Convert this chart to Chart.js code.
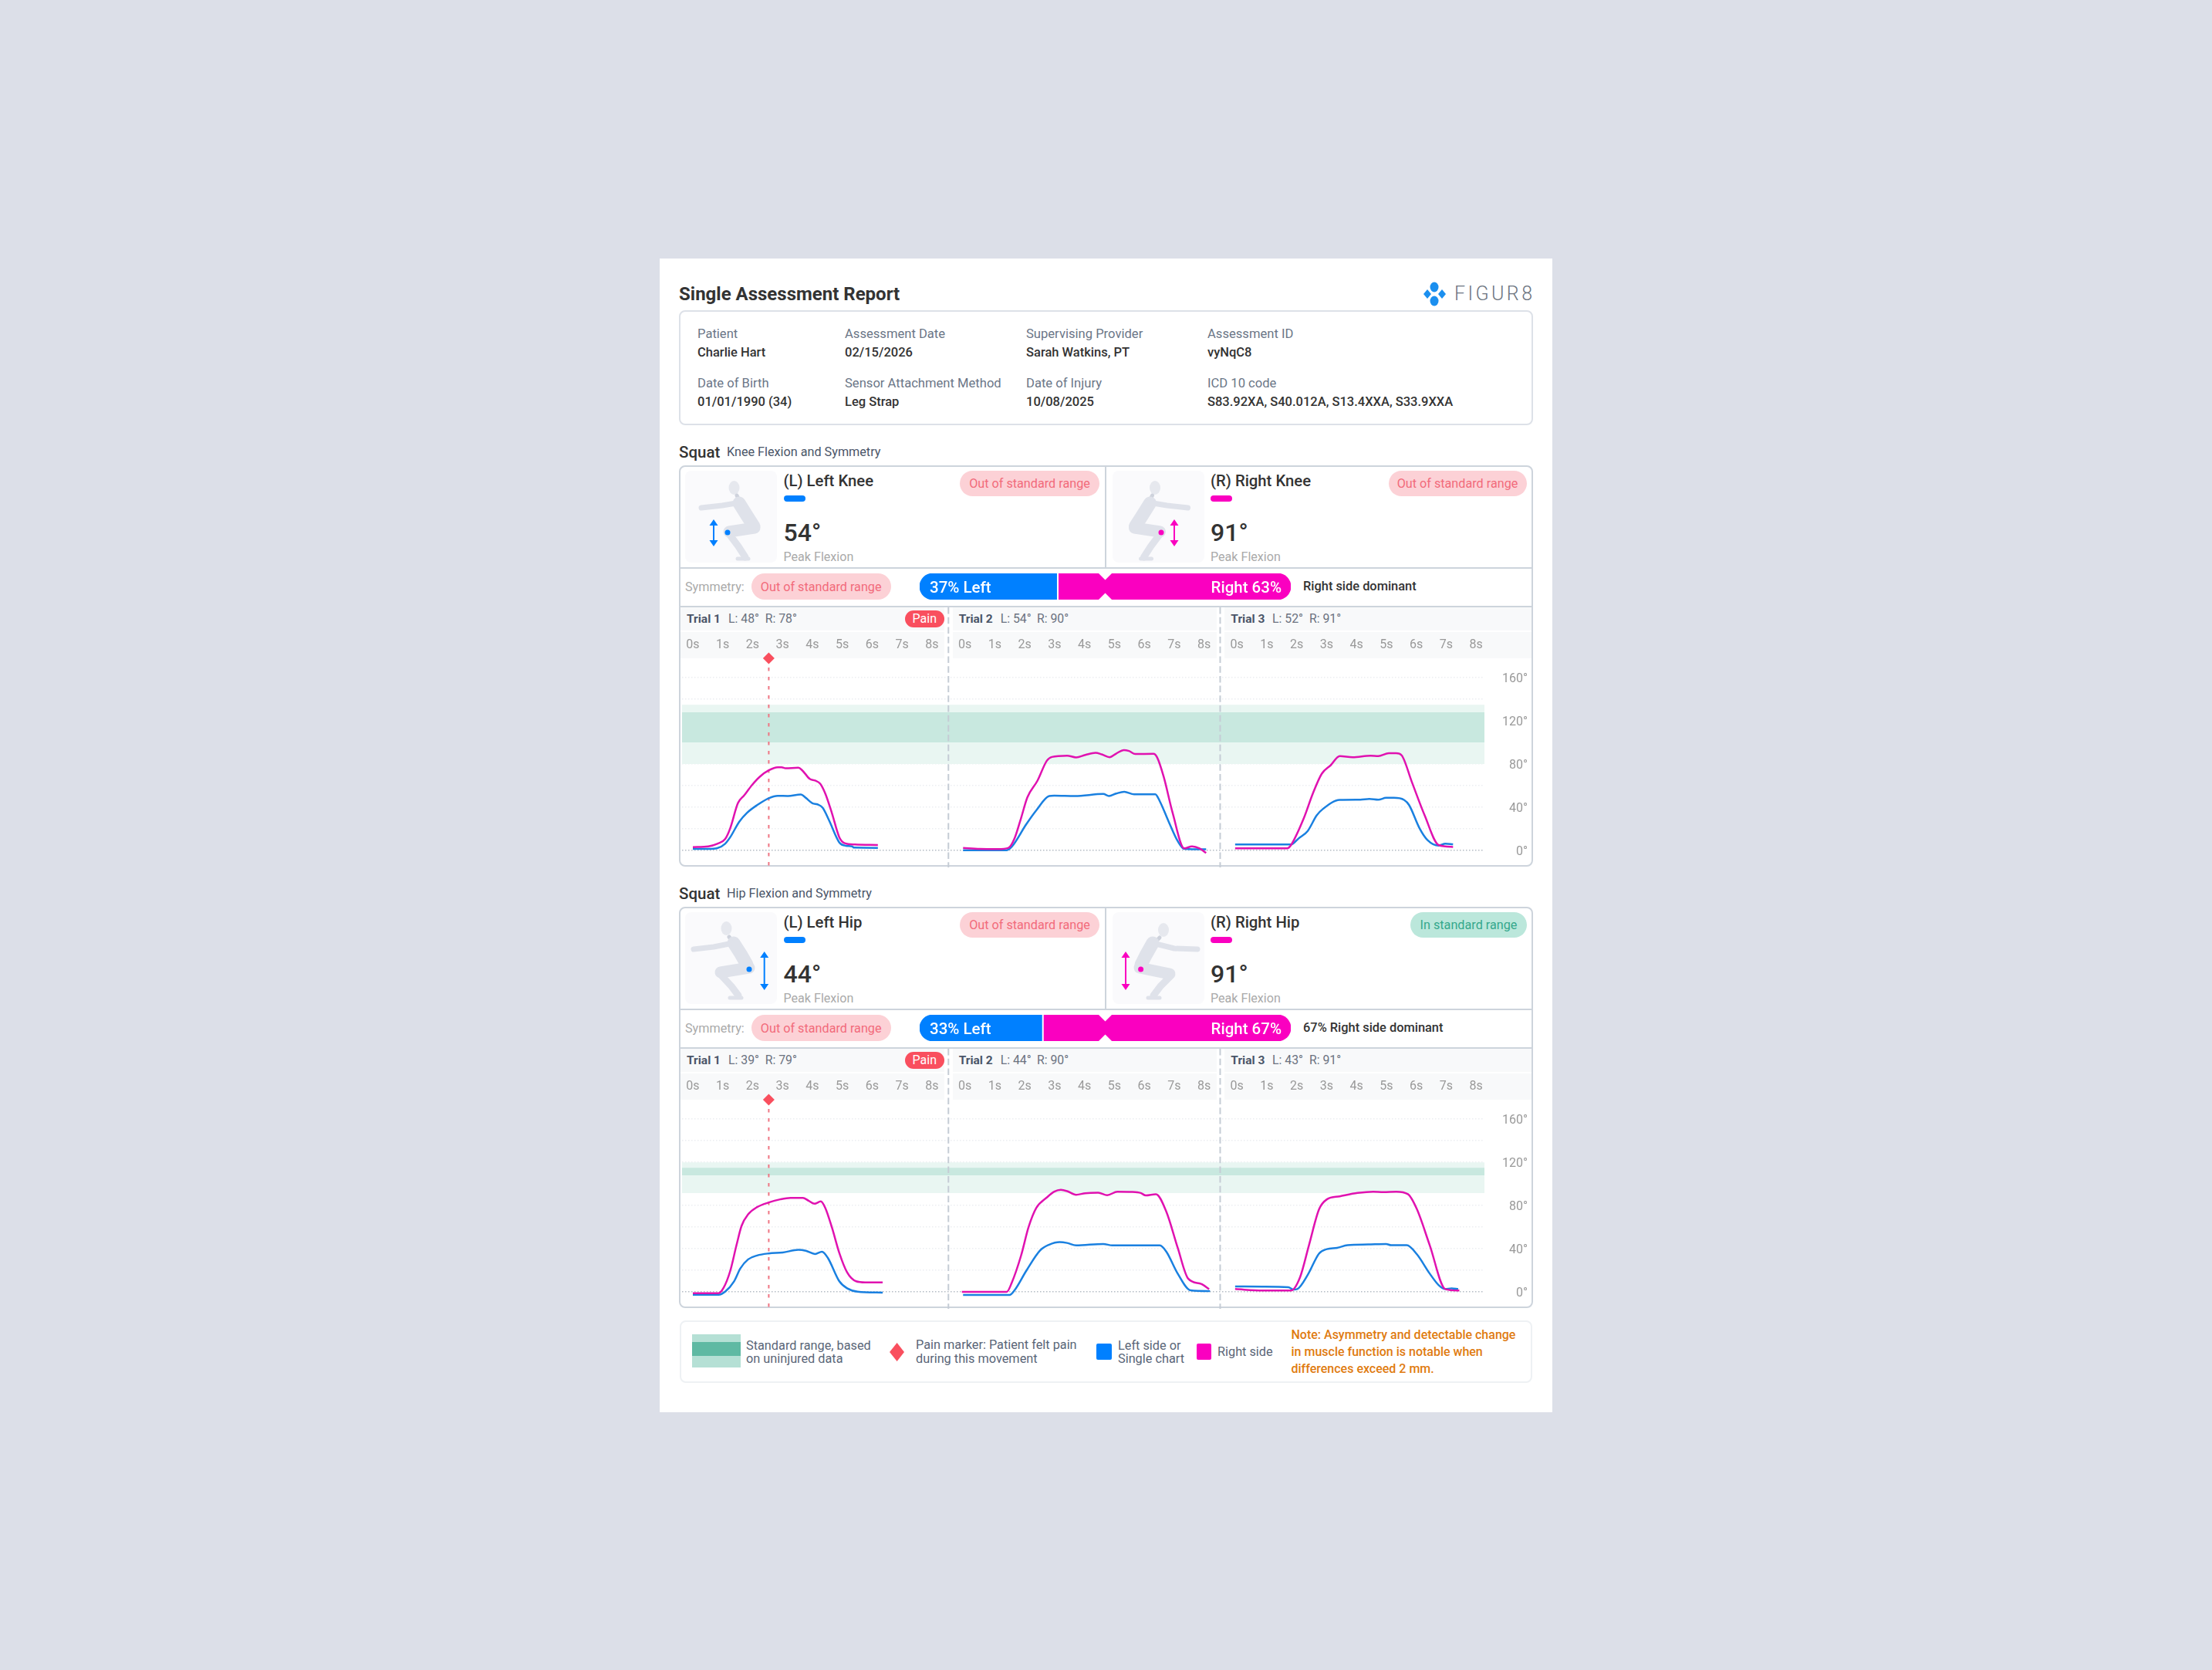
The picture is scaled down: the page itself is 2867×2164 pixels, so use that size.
<!DOCTYPE html>
<html lang="en">
<head>
  <meta charset="UTF-8" />
  <title>Single Assessment Report</title>
  <script src="https://cdn.jsdelivr.net/npm/chart.js"></script>
  <style>
    html, body { margin: 0; padding: 0; }
    body { width: 2867px; height: 2164px; background: #dcdfe8; position: relative; overflow: hidden; font-family: Roboto, Arial, sans-serif; }
    .abs { position: absolute; box-sizing: border-box; }
    .t { position: absolute; white-space: nowrap; transform: translateY(-50%); line-height: 1.2; }
    .pill { position: absolute; box-sizing: border-box; border-radius: 17px; font-size: 16.2px; display: flex; align-items: center; justify-content: center; white-space: nowrap; }
    .bad { background: #fcd1d6; color: #f26b7b; }
    .good { background: #bbe7db; color: #35a88c; }
    .lab { font-size: 16.6px; color: #6b7687; }
    .val { font-size: 16.5px; color: #333; font-weight: 500; }
    canvas { position: absolute; }
  </style>
</head>
<body>
  <div id="page"></div>
  <script>
    // --- data ---
    const secondLabels = ['0s', '1s', '2s', '3s', '4s', '5s', '6s', '7s', '8s'];
    const trialOffsets = [0, 9.1, 18.2];
    const separatorTimes = [8.55, 17.64];
    const painTime = 2.54;
    const gridDegrees = [0, 20, 40, 60, 80, 100, 120, 140, 160];
    const kneeOuterBand = [80, 135];
    const kneeInnerBand = [100, 128];
    const hipOuterBand = [91.5, 120];
    const hipInnerBand = [108, 115];
    const kneeSymmetry = [37, 63];
    const hipSymmetry = [33, 67];

    const kneeT1RightTime = [0, .52, .82, 1.08, 1.25, 1.51, 1.72, 1.98, 2.24, 2.54, 2.84, 2.97, 3.10, 3.53, 3.66, 3.91, 4.09, 4.26, 4.43, 4.65, 4.90, 5.08, 5.42, 6.19];
    const kneeT1Right = [3.1, 3.8, 6.2, 10.5, 20.5, 43.9, 51.1, 60.6, 68.3, 74.2, 77.1, 77.1, 76.1, 76.6, 74.2, 66.3, 64.7, 61.8, 52.7, 34.8, 12.2, 6.7, 5.5, 5.0];
    const kneeT1LeftTime = [0, .52, .82, 1.08, 1.25, 1.55, 1.81, 2.15, 2.54, 2.84, 3.18, 3.61, 3.78, 4.0, 4.17, 4.34, 4.56, 4.90, 5.12, 5.33, 5.39, 6.19];
    const kneeT1Left = [1.4, 1.4, 2.1, 6.2, 12.2, 26.5, 34.8, 42, 48.4, 50.6, 50.4, 51.8, 48.7, 43.7, 42.7, 39.6, 27.7, 7.4, 4.3, 3.8, 2.6, 2.4];

    const kneeT2RightTime = [-.06, .50, 1.10, 1.46, 1.66, 1.88, 2.09, 2.43, 2.74, 2.91, 3.42, 3.72, 4.03, 4.37, 4.58, 4.84, 5.06, 5.32, 5.49, 5.70, 6.31, 6.43, 6.65, 6.95, 7.34, 7.60, 7.85, 8.07];
    const kneeT2Right = [2.4, 1.4, 1.2, 2.4, 11, 30, 49.2, 64.7, 83, 86.6, 87.8, 86.2, 88.5, 90.5, 89, 86.4, 89.7, 93, 92.1, 89.3, 89.5, 86.2, 68.3, 34.8, 1.9, 3.8, 1.9, -2.4];
    const kneeT2LeftTime = [-.06, .50, 1.40, 1.58, 2.05, 2.39, 2.82, 2.99, 3.68, 4.63, 4.82, 5.06, 5.33, 5.66, 6.37, 6.52, 6.82, 7.12, 7.34, 8.07];
    const kneeT2Left = [.2, .2, .2, 3.8, 24.1, 37.2, 50.4, 50.8, 50.4, 52.3, 50.4, 52.7, 54.4, 52, 52, 45.6, 26.5, 8.6, 1.4, 1.0];

    const kneeT3RightTime = [-.06, 1.29, 1.68, 1.81, 2.24, 2.54, 2.84, 3.14, 3.44, 3.87, 4.47, 4.73, 5.08, 5.33, 5.51, 5.85, 6.28, 6.75, 7.23];
    const kneeT3Right = [1.9, 1.9, 1.9, 5, 30, 52.7, 71.1, 79, 87.4, 86.4, 87.8, 87.4, 90, 90, 88.1, 63.5, 32.5, 5, 3.3];
    const kneeT3LeftTime = [-.06, 1.81, 2.06, 2.37, 2.67, 2.88, 3.44, 4.13, 4.43, 4.73, 4.99, 5.25, 5.59, 5.76, 6.11, 6.37, 6.75, 6.97, 7.23];
    const kneeT3Left = [5.5, 5.5, 11, 18.1, 32.5, 38.5, 46.8, 47, 47.7, 47, 48.7, 48.7, 46.8, 42, 20.5, 9.8, 4.5, 6.2, 5.7];

    const hipT1RightTime = [0, .86, 1.03, 1.25, 1.46, 1.63, 1.85, 2.15, 2.54, 2.92, 3.27, 3.68, 3.87, 4.07, 4.28, 4.43, 4.65, 4.90, 5.16, 5.46, 5.76, 6.35];
    const hipT1Right = [-1.2, -1.2, 3.8, 19.3, 43.2, 61.1, 71.8, 78.5, 82.8, 85.7, 87.1, 87.1, 84.5, 81.6, 83.8, 77.8, 59.9, 36, 18.1, 9.8, 8.8, 8.8];
    const hipT1LeftTime = [0, .86, 1.08, 1.38, 1.59, 1.85, 2.15, 2.54, 3.01, 3.53, 3.78, 4.09, 4.32, 4.52, 4.90, 5.16, 5.51, 6.35];
    const hipT1Left = [-2.6, -2.6, .2, 9.8, 21.7, 30.1, 33.7, 35.6, 36.5, 38.9, 38, 35.1, 37.2, 31.3, 9.8, 3.3, .2, -.7];

    const hipT2RightTime = [-.10, 1.40, 1.57, 1.88, 2.13, 2.39, 2.74, 2.99, 3.21, 3.42, 3.72, 4.03, 4.46, 4.76, 5.10, 5.58, 5.88, 6.05, 6.39, 6.74, 7.12, 7.47, 7.90, 8.17];
    const hipT2Right = [0, 0, 8.6, 33.6, 59.9, 77.8, 87.4, 92.8, 94.5, 93.3, 89.9, 91.4, 91.9, 89.5, 92.8, 92.6, 91.6, 89.3, 90.5, 74.2, 40.8, 12.2, 7.4, 2.6];
    const hipT2LeftTime = [-.06, 1.49, 1.66, 2.05, 2.52, 2.82, 3.17, 3.42, 3.72, 4.63, 4.93, 6.52, 6.74, 7.12, 7.55, 8.20];
    const hipT2Left = [-2.9, -2.9, 1.4, 19.3, 38.5, 43.7, 46.1, 45.3, 43, 44.4, 43, 43, 37.2, 16.9, 1.4, .7];

    const hipT3RightTime = [-.06, .86, 1.81, 2.11, 2.41, 2.75, 3.01, 3.44, 4.04, 4.56, 4.90, 5.33, 5.72, 6.02, 6.45, 6.97, 7.44];
    const hipT3Right = [2.6, 1.2, 1.2, 13.4, 43.2, 76.6, 85.7, 88.5, 91.6, 92.8, 92.4, 92.8, 90.5, 76.6, 43.2, 2.6, 1.2];
    const hipT3LeftTime = [-.06, .86, 1.72, 1.89, 2.02, 2.37, 2.75, 3.01, 3.35, 3.70, 4.39, 4.99, 5.16, 5.68, 6.02, 6.45, 6.75, 6.97, 7.18, 7.40];
    const hipT3Left = [5, 4.8, 4.3, 2.1, 2.6, 15.8, 35.6, 39.6, 40.8, 43.2, 43.9, 44.4, 43.2, 43.2, 34.8, 16.9, 6.2, 2.6, 3.3, 2.6];

    const BLUE = '#0080ff', PINK = '#fa00c0', LINE_BLUE = '#1a80e0', LINE_PINK = '#e012b0', RED = '#f94f5e';
    const X_MIN = -0.361, X_MAX = 26.48, Y_MIN = -14.3, Y_MAX = 178;

    const page = document.getElementById('page');

    function box(x, y, w, h, css) {
      const d = document.createElement('div');
      d.className = 'abs';
      d.style.cssText = `left:${x}px;top:${y}px;width:${w}px;height:${h}px;${css || ''}`;
      page.appendChild(d);
      return d;
    }
    // y is the vertical centre of the text
    function text(str, x, y, css, cls) {
      const d = document.createElement('div');
      d.className = 't ' + (cls || '');
      d.textContent = str;
      d.style.cssText = `left:${x}px;top:${y}px;${css || ''}`;
      page.appendChild(d);
      return d;
    }
    function pill(str, x1, y1, x2, y2, cls) {
      const d = document.createElement('div');
      d.className = 'pill ' + cls;
      d.textContent = str;
      d.style.cssText = `left:${x1}px;top:${y1}px;width:${x2 - x1}px;height:${y2 - y1}px;`;
      page.appendChild(d);
    }

    // dashed trial separators, placed with the x scale
    const separatorPlugin = {
      id: 'separators',
      afterDatasetsDraw(chart) {
        const { ctx, scales: { x } } = chart;
        ctx.save();
        ctx.strokeStyle = '#c5ccd5';
        ctx.lineWidth = 2;
        ctx.setLineDash([8.5, 4.2]);
        separatorTimes.forEach(t => {
          const px = x.getPixelForValue(t);
          ctx.beginPath();
          ctx.moveTo(px, 0);
          ctx.lineTo(px, chart.height);
          ctx.stroke();
        });
        ctx.restore();
      }
    };

    function toPoints(times, values, offset) {
      return times.map((t, i) => ({ x: t + offset, y: values[i] }));
    }
    function bandDatasets(range, color, order) {
      const edge = v => [{ x: X_MIN, y: v }, { x: X_MAX, y: v }];
      return [
        { data: edge(range[0]), pointRadius: 0, borderWidth: 0, order: order, fill: false },
        { data: edge(range[1]), pointRadius: 0, borderWidth: 0, order: order, fill: '-1', backgroundColor: color }
      ];
    }
    function lineDataset(times, values, offset, color, order) {
      return {
        data: toPoints(times, values, offset), borderColor: color, borderWidth: 2.5, pointRadius: 0,
        cubicInterpolationMode: 'monotone', fill: false, order: order
      };
    }
    // no extra room for labels that hang over the ends of an axis
    function noOverhang(s) {
      s.paddingLeft = s.paddingRight = s.paddingTop = s.paddingBottom = 0;
      s._margins = { left: 0, right: 0, top: 0, bottom: 0 };
    }

    function drawTrials(id, top, lefts, rights, outer, inner) {
      const canvas = document.createElement('canvas');
      canvas.id = id;
      canvas.width = 1106;
      canvas.height = 337;
      canvas.style.cssText = `left:884px;top:${top}px;width:1106px;height:337px;`;
      page.appendChild(canvas);

      const datasets = [
        ...bandDatasets(outer, '#e9f6f2', 6),
        ...bandDatasets(inner, '#c8e8df', 5),
        {
          data: [{ x: painTime, y: Y_MAX }, { x: painTime, y: Y_MIN }], borderColor: '#ef7583', borderWidth: 2,
          borderDash: [4.5, 7.5], pointStyle: 'rectRot', pointRadius: [7.5, 0], pointBackgroundColor: RED,
          pointBorderWidth: 0, fill: false, order: 4, clip: false
        }
      ];
      trialOffsets.forEach((off, i) => {
        datasets.push(lineDataset(lefts[i][0], lefts[i][1], off, LINE_BLUE, 3));
        datasets.push(lineDataset(rights[i][0], rights[i][1], off, LINE_PINK, 2));
      });

      new Chart(canvas, {
        type: 'line',
        data: { datasets },
        plugins: [separatorPlugin],
        options: {
          responsive: false,
          animation: false,
          layout: { autoPadding: false, padding: { left: 0, right: 10, top: 0, bottom: 2 } },
          plugins: { legend: { display: false }, tooltip: { enabled: false } },
          scales: {
            x: {
              type: 'linear', position: 'top', min: X_MIN, max: X_MAX,
              grid: { display: false, drawTicks: false }, border: { display: false },
              afterBuildTicks: s => {
                s.ticks = trialOffsets.flatMap(off => secondLabels.map((_, i) => ({ value: off + i })));
              },
              afterFit: s => { s.height = 66; noOverhang(s); },
              ticks: {
                autoSkip: false, maxRotation: 0, padding: 7.5, color: '#999', font: { family: 'Roboto', size: 16 },
                callback: (v, i) => secondLabels[i % secondLabels.length]
              }
            },
            y: {
              position: 'right', min: Y_MIN, max: Y_MAX,
              border: { display: false, dash: [1.5, 2.5] },
              grid: { drawTicks: false, lineWidth: 1.5, color: c => (c.tick && c.tick.value === 0) ? '#b4bbc4' : '#eceef1' },
              afterBuildTicks: s => { s.ticks = gridDegrees.map(v => ({ value: v })); },
              afterFit: s => { s.width = 56; noOverhang(s); },
              ticks: {
                autoSkip: false, crossAlign: 'far', padding: 0, labelOffset: 2, color: '#999', font: { family: 'Roboto', size: 16 },
                callback: v => (v % 40 === 0 ? v + '°' : '')
              }
            }
          }
        }
      });
    }

    // white gap between the two parts and the notch at the 50% mark
    const symmetryPlugin = {
      id: 'symmetryMarks',
      afterDatasetsDraw(chart) {
        const { ctx, scales: { x } } = chart;
        const h = chart.height, mid = x.getPixelForValue(50), split = x.getPixelForValue(chart.data.datasets[0].data[0]);
        ctx.save();
        ctx.fillStyle = '#fff';
        ctx.fillRect(split, 0, 2, h);
        [[0, 8.5], [h, h - 8.5]].forEach(([edge, tip]) => {
          ctx.beginPath();
          ctx.moveTo(mid - 8.5, edge);
          ctx.lineTo(mid, tip);
          ctx.lineTo(mid + 8.5, edge);
          ctx.closePath();
          ctx.fill();
        });
        ctx.restore();
      }
    };

    function drawSymmetry(id, top, shares) {
      const canvas = document.createElement('canvas');
      canvas.id = id;
      canvas.width = 481;
      canvas.height = 34;
      canvas.style.cssText = `left:1192px;top:${top}px;width:481px;height:34px;`;
      page.appendChild(canvas);
      new Chart(canvas, {
        type: 'bar',
        data: {
          labels: ['Symmetry'],
          datasets: [
            { data: [shares[0]], backgroundColor: BLUE, borderSkipped: false, borderRadius: { topLeft: 17, bottomLeft: 17, topRight: 0, bottomRight: 0 } },
            { data: [shares[1]], backgroundColor: PINK, borderSkipped: false, borderRadius: { topLeft: 0, bottomLeft: 0, topRight: 17, bottomRight: 17 } }
          ]
        },
        plugins: [symmetryPlugin],
        options: {
          indexAxis: 'y', responsive: false, animation: false,
          datasets: { bar: { barPercentage: 1, categoryPercentage: 1 } },
          plugins: { legend: { display: false }, tooltip: { enabled: false } },
          scales: {
            x: { stacked: true, display: false, min: 0, max: 100 },
            y: { stacked: true, display: false }
          }
        }
      });
      text(shares[0] + '% Left', 1205, top + 17.5, 'font-size:20.5px;font-weight:500;color:#fff;');
      const r = text('Right ' + shares[1] + '%', 1661, top + 17.5, 'font-size:20.5px;font-weight:500;color:#fff;');
      r.style.transform = 'translate(-100%,-50%)';
    }

    // --- squatting figures ---
    function arrow(x, y1, y2, c) {
      return `<line x1="${x}" y1="${y1 + 6}" x2="${x}" y2="${y2 - 6}" stroke="${c}" stroke-width="2"/>
        <path d="M${x - 5.5} ${y1 + 8}L${x} ${y1}L${x + 5.5} ${y1 + 8}Z M${x - 5.5} ${y2 - 8}L${x} ${y2}L${x + 5.5} ${y2 - 8}Z" fill="${c}"/>`;
    }
    function limb(pts, w, c) {
      return `<polyline points="${pts}" fill="none" stroke="${c || '#dfe2ea'}" stroke-width="${w}" stroke-linecap="round" stroke-linejoin="round"/>`;
    }
    function kneeFigure() {
      return `<ellipse cx="951.5" cy="632" rx="7" ry="9" fill="#e6e8ee"/>` + limb('955,642 957,646', 5, '#ced2dc') +
        limb('958,652 968,668 977,682', 17) + limb('960,651 936,655 909,658', 7) + limb('978,684 945,689', 15) +
        limb('945,692 957,708 966,722', 9) + limb('956,724 970,724', 5);
    }
    function hipLeftFigure() {
      return `<ellipse cx="941.5" cy="1203" rx="7" ry="9" fill="#e6e8ee"/>` + limb('945,1214 947,1217', 5, '#ced2dc') +
        limb('951,1222 960,1236 968,1250', 17) + limb('955,1221 925,1227 899,1230', 7) + limb('971,1254 934,1260', 15) +
        limb('934,1263 948,1278 957,1290', 9) + limb('946,1293 961,1293', 5);
    }
    function hipRightFigure() {
      return `<ellipse cx="1508" cy="1205" rx="7" ry="9" fill="#e6e8ee"/>` + limb('1503,1215 1500,1218', 5, '#ced2dc') +
        limb('1494,1222 1485,1238 1479,1250', 17) + limb('1490,1221 1522,1229 1552,1230', 7) + limb('1477,1254 1516,1262', 15) +
        limb('1516,1266 1504,1278 1495,1290', 9) + limb('1488,1293 1503,1293', 5);
    }

    // --- fixed parts of the report ---
    box(855, 335, 1157, 1495, 'background:#fff;');
    text('Single Assessment Report', 880, 381, 'font-size:24px;font-weight:700;color:#333;');
    text('FIGUR8', 1885, 381, 'font-size:25px;font-weight:300;color:#6c7480;letter-spacing:3.4px;');

    box(880, 402, 1107, 149, 'border:2px solid #dde1e8;border-radius:8px;');
    const infoCols = [904, 1095, 1330, 1565];
    [['Patient', 'Charlie Hart'], ['Assessment Date', '02/15/2026'], ['Supervising Provider', 'Sarah Watkins, PT'], ['Assessment ID', 'vyNqC8']].forEach((c, i) => {
      text(c[0], infoCols[i], 433, '', 'lab');
      text(c[1], infoCols[i], 457, '', 'val');
    });
    [['Date of Birth', '01/01/1990 (34)'], ['Sensor Attachment Method', 'Leg Strap'], ['Date of Injury', '10/08/2025'], ['ICD 10 code', 'S83.92XA, S40.012A, S13.4XXA, S33.9XXA']].forEach((c, i) => {
      text(c[0], infoCols[i], 497, '', 'lab');
      text(c[1], infoCols[i], 521, '', 'val');
    });

    function section(dy, cfg) {
      text('Squat', 880, 586 + dy, 'font-size:20.5px;font-weight:500;color:#333;');
      text(cfg.subtitle, 942, 586 + dy, 'font-size:16.2px;color:#4a5568;');

      // header rows sit under the chart canvas
      [[882, 342], [1235, 342], [1587, 399]].forEach(([x, w]) => {
        box(x, 787 + dy, w, 30, 'background:#f8f9fa;');
        box(x, 819 + dy, w, 34, 'background:#f8f9fa;');
      });
      box(880, 603 + dy, 1107, 520, 'border:2px solid #cdd4dc;border-radius:8px;');
      box(881, 735 + dy, 1105, 2, 'background:#cdd4dc;');
      box(881, 785 + dy, 1105, 2, 'background:#cdd4dc;');
      box(1432, 604 + dy, 2, 132, 'background:#cdd4dc;');
      box(888, 610 + dy, 119, 119, 'background:#fafafc;border-radius:8px;');
      box(1441.5, 610 + dy, 119, 119, 'background:#fafafc;border-radius:8px;');

      [[1015.5, cfg.leftName, BLUE, cfg.leftPeak, cfg.leftPill], [1569, cfg.rightName, PINK, cfg.rightPeak, cfg.rightPill]].forEach(([x, name, col, peak, p]) => {
        text(name, x, 623 + dy, 'font-size:20.3px;font-weight:500;color:#333;');
        box(x, 642 + dy, 28, 8, `background:${col};border-radius:4px;`);
        text(peak + '°', x, 690 + dy, 'font-size:32px;font-weight:500;color:#333;');
        text('Peak Flexion', x, 722 + dy, 'font-size:16.1px;color:#aaa;');
        pill(p[0], p[1], 610 + dy, p[2], 643 + dy, p[3]);
      });

      text('Symmetry:', 888, 761 + dy, 'font-size:16.2px;color:#aaa;');
      pill('Out of standard range', 973.7, 743 + dy, 1154.7, 777 + dy, 'bad');
      text(cfg.dominant, 1689, 760 + dy, 'font-size:16.4px;font-weight:500;color:#333;');

      [[890, 944, 991.7], [1242.7, 1296.7, 1344], [1595.3, 1649, 1697]].forEach(([a, b, c], i) => {
        text('Trial ' + (i + 1), a, 802 + dy, 'font-size:15.5px;font-weight:700;color:#4a5568;');
        text('L: ' + cfg.trials[i][0] + '°', b, 802 + dy, 'font-size:15.8px;color:#6b7280;');
        text('R: ' + cfg.trials[i][1] + '°', c, 802 + dy, 'font-size:15.8px;color:#6b7280;');
      });
      pill('Pain', 1172.7, 791 + dy, 1224, 812.7 + dy, '');
      page.lastChild.style.background = RED;
      page.lastChild.style.color = '#fff';
      page.lastChild.style.fontSize = '16px';
    }

    section(0, {
      subtitle: 'Knee Flexion and Symmetry', leftName: '(L) Left Knee', rightName: '(R) Right Knee', leftPeak: 54, rightPeak: 91,
      leftPill: ['Out of standard range', 1244, 1425, 'bad'], rightPill: ['Out of standard range', 1799.5, 1978.5, 'bad'],
      dominant: 'Right side dominant', trials: [[48, 78], [54, 90], [52, 91]]
    });
    section(572, {
      subtitle: 'Hip Flexion and Symmetry', leftName: '(L) Left Hip', rightName: '(R) Right Hip', leftPeak: 44, rightPeak: 91,
      leftPill: ['Out of standard range', 1244, 1425, 'bad'], rightPill: ['In standard range', 1828, 1979, 'good'],
      dominant: '67% Right side dominant', trials: [[39, 79], [44, 90], [43, 91]]
    });

    drawTrials('kneeChart', 787,
      [[kneeT1LeftTime, kneeT1Left], [kneeT2LeftTime, kneeT2Left], [kneeT3LeftTime, kneeT3Left]],
      [[kneeT1RightTime, kneeT1Right], [kneeT2RightTime, kneeT2Right], [kneeT3RightTime, kneeT3Right]],
      kneeOuterBand, kneeInnerBand);
    drawTrials('hipChart', 1359,
      [[hipT1LeftTime, hipT1Left], [hipT2LeftTime, hipT2Left], [hipT3LeftTime, hipT3Left]],
      [[hipT1RightTime, hipT1Right], [hipT2RightTime, hipT2Right], [hipT3RightTime, hipT3Right]],
      hipOuterBand, hipInnerBand);
    drawSymmetry('kneeSymmetry', 743, kneeSymmetry);
    drawSymmetry('hipSymmetry', 1315, hipSymmetry);

    // legend
    box(881, 1711, 1105, 81, 'border:2px solid #eef1f4;border-radius:8px;');
    box(897.4, 1729, 62.6, 43, 'background:#b5e0d5;');
    box(897.4, 1739, 62.6, 18, 'background:#5fb9a3;');
    const legendText = 'font-size:16.3px;color:#5a6678;';
    text('Standard range, based', 967, 1744, legendText);
    text('on uninjured data', 967, 1761, legendText);
    text('Pain marker: Patient felt pain', 1187, 1743, legendText);
    text('during this movement', 1187, 1761, legendText);
    box(1421, 1741, 20, 21, `background:${BLUE};border-radius:2px;`);
    text('Left side or', 1449, 1744, legendText);
    text('Single chart', 1449, 1761, legendText);
    box(1551, 1741, 19, 21, `background:${PINK};border-radius:2px;`);
    text('Right side', 1578, 1752, legendText);
    const noteText = 'font-size:16px;font-weight:500;color:#e07b10;';
    text('Note: Asymmetry and detectable change', 1673.5, 1730, noteText);
    text('in muscle function is notable when', 1673.5, 1752, noteText);
    text('differences exceed 2 mm.', 1673.5, 1774, noteText);

    // figures, logo and legend diamond on one overlay
    const art = document.createElementNS('http://www.w3.org/2000/svg', 'svg');
    art.setAttribute('width', 2867);
    art.setAttribute('height', 2164);
    art.style.cssText = 'position:absolute;left:0;top:0;pointer-events:none;';
    art.innerHTML = `
      <ellipse cx="1859" cy="372" rx="5.5" ry="6.5" fill="#1b8fef"/>
      <ellipse cx="1859" cy="390" rx="5.5" ry="6.5" fill="#1b8fef"/>
      <path d="M1845 381L1850 375L1855 381L1850 387Z M1864 381L1869 375L1874 381L1869 387Z" fill="#1b8fef"/>
      <path d="M1153 1752L1162.6 1740L1172 1752L1162.6 1764Z" fill="${RED}"/>
      ${kneeFigure()}
      <circle cx="943" cy="690" r="3.5" fill="${BLUE}"/>${arrow(925, 673, 708, BLUE)}
      <g transform="translate(2448.5,0) scale(-1,1)">${kneeFigure()}</g>
      <circle cx="1505" cy="690" r="3.5" fill="${PINK}"/>${arrow(1522, 673, 708, PINK)}
      ${hipLeftFigure()}
      <circle cx="971" cy="1256" r="3.5" fill="${BLUE}"/>${arrow(990.7, 1233, 1283, BLUE)}
      ${hipRightFigure()}
      <circle cx="1478.6" cy="1256" r="3.5" fill="${PINK}"/>${arrow(1459, 1233, 1283, PINK)}`;
    page.appendChild(art);
  </script>
</body>
</html>
